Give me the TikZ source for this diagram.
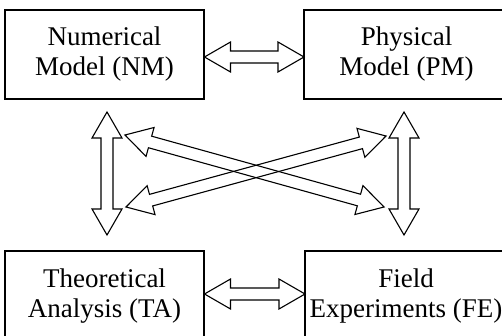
\documentclass[tikz,border=0pt]{standalone}
\usepackage{fontspec}
\setmainfont{Liberation Serif}
\usetikzlibrary{calc}
\tikzset{
  boxline/.style={draw, line width=1.4pt},
  label/.style={inner sep=0pt, align=center, font=\fontsize{27}{30}\selectfont},
  arrowline/.style={draw, line width=1.1pt, line join=miter},
}
\newcommand\hollowarrow[2]{%
  \coordinate (h1) at ($(#1)!26pt!(#2)$);
  \coordinate (h2) at ($(#2)!26pt!(#1)$);
  \draw[arrowline] (#1) -- ($(h1)!15pt!90:(#2)$) -- ($(h1)!6pt!90:(#2)$)
    -- ($(h2)!6pt!-90:(#1)$) -- ($(h2)!15pt!-90:(#1)$) -- (#2)
    -- ($(h2)!15pt!90:(#1)$) -- ($(h2)!6pt!90:(#1)$)
    -- ($(h1)!6pt!-90:(#2)$) -- ($(h1)!15pt!-90:(#2)$) -- cycle;
}
\begin{document}
\begin{tikzpicture}[x=1pt,y=-1pt]
\useasboundingbox (0,0) rectangle (502,336);
\begin{scope}
\clip (0,0) rectangle (502,336);
% box outlines (right and bottom boxes run past the picture's edges)
\draw[boxline] (5,10) rectangle (204,99);
\draw[boxline] (304,10) rectangle (512,99);
\draw[boxline] (5,251) rectangle (204,345);
\draw[boxline] (305,251) rectangle (512,345);
\end{scope}
% texts
\node[label] (NM) at (104.5,54) {Numerical\\Model (NM)};
\node[label] (PM) at (406.5,54) {Physical\\Model (PM)};
\node[label] (TA) at (104.5,296) {Theoretical\\Analysis (TA)};
\node[label] (FE) at (406,296) {Field\\Experiments (FE)};
% arrow end points on and near the boxes
\coordinate (nmE) at (204.5,57);
\coordinate (pmW) at (304,57);
\coordinate (taE) at (204.5,294);
\coordinate (feW) at (305,294);
\coordinate (nmS) at (107,112);
\coordinate (taN) at (107,235);
\coordinate (pmS) at (404,112);
\coordinate (feN) at (404,235);
\coordinate (nmSE) at (125,135);
\coordinate (feNW) at (384,207);
\coordinate (taNE) at (126,207);
\coordinate (pmSW) at (386,136);
\hollowarrow{nmE}{pmW}
\hollowarrow{taE}{feW}
\hollowarrow{nmS}{taN}
\hollowarrow{pmS}{feN}
\hollowarrow{nmSE}{feNW}
\hollowarrow{taNE}{pmSW}
\end{tikzpicture}
\end{document}
